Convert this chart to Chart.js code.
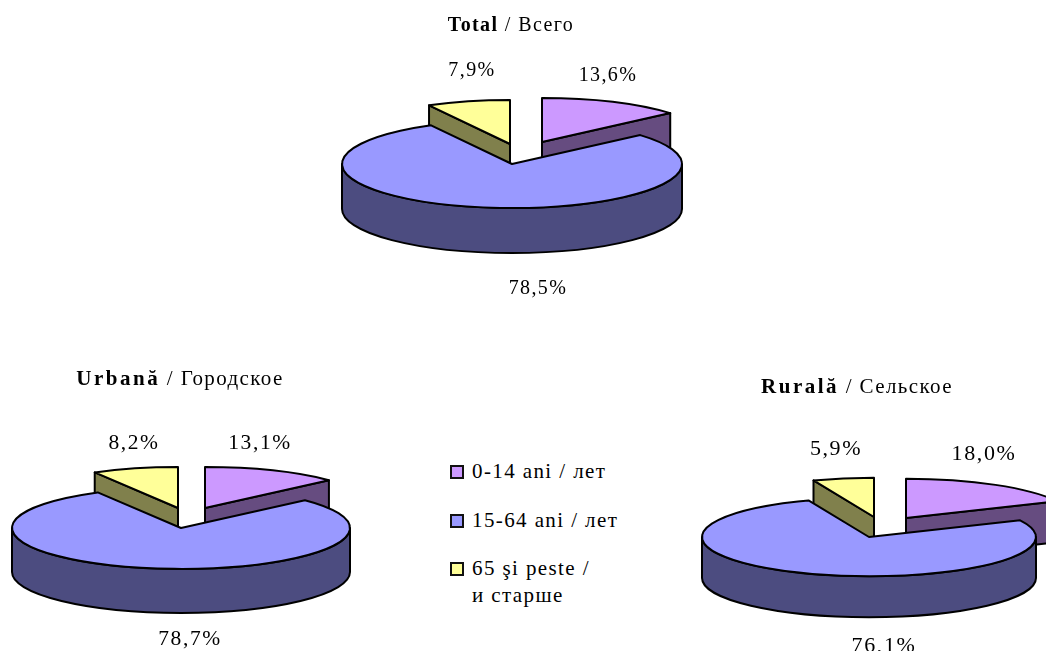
<!DOCTYPE html>
<html>
<head>
<meta charset="utf-8">
<script src="https://cdn.jsdelivr.net/npm/chart.js@4/dist/chart.umd.min.js"></script>
<style>
html,body{margin:0;padding:0;background:#fff;width:1046px;height:651px;overflow:hidden}
#stage{position:relative;width:1046px;height:651px;overflow:hidden;font-family:"Liberation Serif",serif;font-size:20px;color:#000}
canvas{position:absolute}
.t{position:absolute;white-space:nowrap;transform:translate(-50%,-50%);letter-spacing:1.4px;line-height:1}
.l{position:absolute;white-space:nowrap;transform:translateY(-50%);letter-spacing:1.4px;line-height:1;font-size:21px}
.m{font-size:21.5px;letter-spacing:1.6px}
.r{font-size:22px;letter-spacing:1.6px}
.ti{font-size:21px;letter-spacing:1.4px}
.ti b{letter-spacing:2.5px}
.s{position:absolute;width:10px;height:10px;border:2px solid #111}
</style>
</head>
<body>
<div id="stage"></div>
<script>
const categories = ['0-14 ani / лет', '15-64 ani / лет', '65 şi peste / и старше'];
const totalValues = [13.6, 78.5, 7.9];
const urbanValues = [13.1, 78.7, 8.2];
const ruralValues = [18.0, 76.1, 5.9];
const topColors = ['#CC99FF', '#9999FF', '#FFFF99'];
const wallColors = ['#664C80', '#4C4C80', '#80804C'];

const PAD = 40;
const stage = document.getElementById('stage');

const pie3d = {
  id: 'pie3d',
  beforeDatasetDraw(chart, args, o) {
    const ctx = chart.ctx;
    const arcs = chart.getDatasetMeta(0).data.map((a, i) => ({a, i}));
    arcs.sort((p, q) =>
      Math.sin((p.a.startAngle + p.a.endAngle) / 2) - Math.sin((q.a.startAngle + q.a.endAngle) / 2));
    ctx.save();
    ctx.lineWidth = 2;
    ctx.lineJoin = 'round';
    ctx.strokeStyle = '#000';
    for (const {a, i} of arcs) {
      const rx = a.outerRadius, ry = rx * o.tilt, d = o.depth;
      const cx = a.x + o.explode[i][0], cy = a.y + o.explode[i][1];
      const s = a.startAngle, e = a.endAngle;
      const px = t => cx + rx * Math.cos(t), py = t => cy + ry * Math.sin(t);
      const paint = col => { ctx.fillStyle = col; ctx.fill(); ctx.stroke(); };
      const wall = t => {
        ctx.beginPath();
        ctx.moveTo(cx, cy); ctx.lineTo(px(t), py(t));
        ctx.lineTo(px(t), py(t) + d); ctx.lineTo(cx, cy + d); ctx.closePath();
        paint(wallColors[i]);
      };
      if (Math.cos(s) < -1e-6) wall(s);
      if (Math.cos(e) > 1e-6) wall(e);
      for (const k of [-2 * Math.PI, 0, 2 * Math.PI]) {
        const f = Math.max(s, k), g = Math.min(e, k + Math.PI);
        if (g > f) {
          ctx.beginPath();
          ctx.ellipse(cx, cy, rx, ry, 0, f, g);
          ctx.ellipse(cx, cy + d, rx, ry, 0, g, f, true);
          ctx.closePath();
          paint(wallColors[i]);
        }
      }
      ctx.beginPath();
      ctx.moveTo(cx, cy);
      ctx.ellipse(cx, cy, rx, ry, 0, s, e);
      ctx.closePath();
      paint(topColors[i]);
    }
    ctx.restore();
    return false;
  }
};

function addPie(values, cfg) {
  const c = document.createElement('canvas');
  const half = cfg.radius + PAD;
  c.width = c.height = half * 2;
  c.style.left = (cfg.cx - half) + 'px';
  c.style.top = (cfg.cy - half) + 'px';
  c.style.width = c.style.height = half * 2 + 'px';
  stage.appendChild(c);
  new Chart(c, {
    type: 'pie',
    data: { labels: categories, datasets: [{ data: values, backgroundColor: topColors, borderWidth: 0, hoverOffset: 0 }] },
    options: {
      responsive: false, animation: false, events: [],
      layout: { padding: PAD },
      plugins: {
        legend: { display: false }, tooltip: { enabled: false },
        pie3d: { tilt: cfg.tilt, depth: cfg.depth, explode: cfg.explode }
      }
    },
    plugins: [pie3d]
  });
}

function text(cls, x, y, html) {
  const d = document.createElement('div');
  d.className = cls;
  d.style.left = x + 'px';
  d.style.top = y + 'px';
  d.innerHTML = html;
  stage.appendChild(d);
}
const pct = v => v.toFixed(1).replace('.', ',') + '%';

addPie(totalValues, { cx: 512, cy: 164, radius: 170, tilt: 0.259, depth: 45, explode: [[30, -22], [0, 0], [-2, -20]] });
addPie(urbanValues, { cx: 181, cy: 528, radius: 169, tilt: 0.242, depth: 44, explode: [[24, -20], [0, 0], [-3, -20]] });
addPie(ruralValues, { cx: 869, cy: 537, radius: 167, tilt: 0.235, depth: 41, explode: [[37, -19], [0, 0], [5, -20]] });

text('t', 511, 24, '<b>Total</b> / Всего');
text('t ti', 180, 378, '<b>Urbană</b> / Городское');
text('t ti', 857, 386, '<b>Rurală</b> / Сельское');

text('t', 608, 74, pct(totalValues[0]));
text('t', 538, 287, pct(totalValues[1]));
text('t', 472, 69, pct(totalValues[2]));
text('t m', 260, 443, pct(urbanValues[0]));
text('t m', 190, 639, pct(urbanValues[1]));
text('t m', 134, 443, pct(urbanValues[2]));
text('t r', 984, 453, pct(ruralValues[0]));
text('t r', 884, 645, pct(ruralValues[1]));
text('t r', 836, 448, pct(ruralValues[2]));

const legendRows = [
  { y: 471, color: topColors[0], lines: ['0-14 ani / лет'] },
  { y: 520, color: topColors[1], lines: ['15-64 ani / лет'] },
  { y: 568, color: topColors[2], lines: ['65 şi peste /', 'и старше'] }
];
for (const row of legendRows) {
  const s = document.createElement('div');
  s.className = 's';
  s.style.left = '450px';
  s.style.top = (row.y - 6) + 'px';
  s.style.background = row.color;
  stage.appendChild(s);
  row.lines.forEach((ln, n) => text('l', 472, row.y + n * 27, ln));
}
</script>
</body>
</html>
